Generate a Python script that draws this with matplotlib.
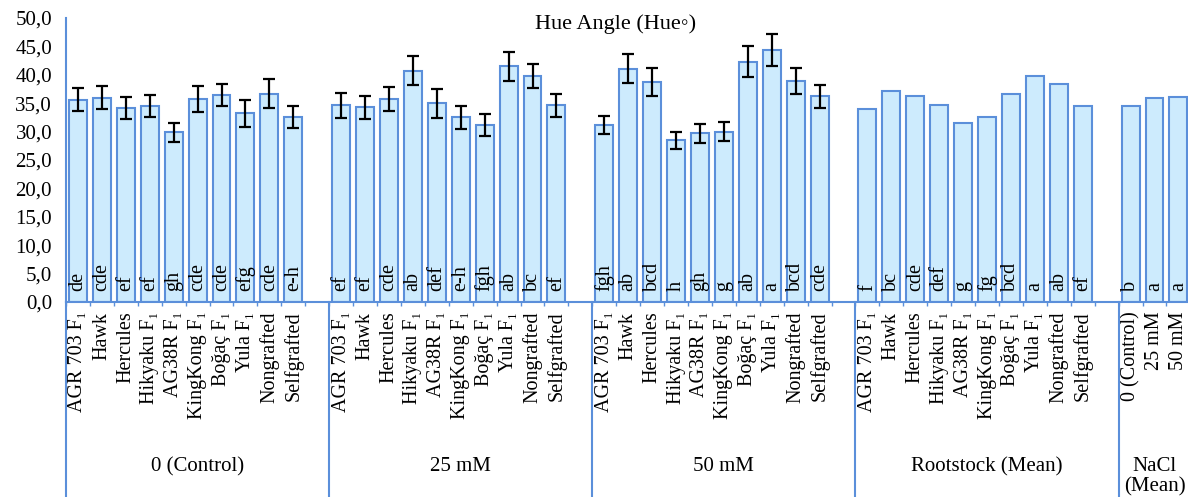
import numpy as np
import matplotlib
matplotlib.use("Agg")
import matplotlib.pyplot as plt
import matplotlib.ticker as mtick
from matplotlib.transforms import blended_transform_factory

plt.rcParams['font.family'] = ['Liberation Serif', 'DejaVu Serif', 'DejaVu Sans']

cultivars = ["AGR 703 F₁", "Hawk", "Hercules", "Hikyaku F₁", "AG38R F₁",
             "KingKong F₁", "Boğaç F₁", "Yula F₁", "Nongrafted", "Selfgrafted"]
nacl_levels = ["0 (Control)", "25 mM", "50 mM"]
group_names = ["0 (Control)", "25 mM", "50 mM", "Rootstock (Mean)", "NaCl\n(Mean)"]

hue_control = [35.6, 36.0, 34.2, 34.5, 29.9, 35.8, 36.5, 33.2, 36.7, 32.5]
err_control = [2.05, 2.0, 1.9, 1.95, 1.65, 2.3, 1.95, 2.4, 2.5, 1.95]
let_control = ["de", "cde", "ef", "ef", "gh", "cde", "cde", "efg", "cde", "e-h"]

hue_25 = [34.6, 34.3, 35.8, 40.7, 35.0, 32.5, 31.2, 41.5, 39.8, 34.6]
err_25 = [2.2, 2.05, 2.1, 2.55, 2.55, 2.0, 1.9, 2.6, 2.1, 1.95]
let_25 = ["ef", "ef", "cde", "ab", "def", "e-h", "fgh", "ab", "bc", "ef"]

hue_50 = [31.2, 41.1, 38.8, 28.5, 29.7, 30.0, 42.3, 44.4, 38.9, 36.2]
err_50 = [1.55, 2.6, 2.45, 1.5, 1.65, 1.7, 2.7, 2.8, 2.35, 2.0]
let_50 = ["fgh", "ab", "bcd", "h", "gh", "g", "ab", "a", "bcd", "cde"]

hue_root = [33.9, 37.1, 36.2, 34.6, 31.5, 32.6, 36.7, 39.8, 38.4, 34.5]
let_root = ["f", "bc", "cde", "def", "g", "fg", "bcd", "a", "ab", "ef"]

hue_nacl = [34.5, 36.0, 36.1]
let_nacl = ["b", "a", "a"]

groups = [
    (cultivars, hue_control, err_control, let_control),
    (cultivars, hue_25, err_25, let_25),
    (cultivars, hue_50, err_50, let_50),
    (cultivars, hue_root, None, let_root),
    (nacl_levels, hue_nacl, None, let_nacl),
]

face = '#CDEBFD'
edge = '#5B8FDA'

fig = plt.figure(figsize=(11.88, 4.97), dpi=100)
ax = fig.add_axes([66 / 1188, 1 - 302 / 497, 1 - 66 / 1188, (302 - 18) / 497])

xpos, xlab = [], []
bounds = [-0.5]
slot = 0
for labels, vals, errs, lets in groups:
    x = np.arange(slot, slot + len(vals))
    ax.bar(x, vals, width=0.75, color=face, edgecolor=edge, linewidth=1.5, zorder=2)
    if errs is not None:
        ax.errorbar(x, vals, yerr=errs, fmt='none', ecolor='black', elinewidth=1.6,
                     capsize=4, capthick=1.6, zorder=3)
    for xi, t in zip(x, lets):
        ax.text(xi, 1.9, t, rotation=90, ha='center', va='bottom', fontsize=14.5, zorder=4)
    xpos.extend(x)
    xlab.extend(labels)
    slot += len(vals) + 1
    bounds.append(slot - 0.5)
bounds[-1] = bounds[-1] - 1

ax.set_xlim(-0.5, bounds[-1] - 0.1)
ax.set_ylim(0, 50)

ax.set_xticks(xpos)
ax.set_xticklabels(xlab, rotation=90, ha='center', va='top', fontsize=14.5)
ax.set_xticks(np.arange(-0.5, bounds[-1], 1.0), minor=True)
ax.tick_params(axis='x', which='major', length=0, pad=7)
ax.tick_params(axis='x', which='minor', length=3, color=edge, width=1)

ax.yaxis.set_major_locator(mtick.MultipleLocator(5))
ax.yaxis.set_major_formatter(mtick.FuncFormatter(lambda v, p: ("%.1f" % v).replace('.', ',')))
ax.tick_params(axis='y', length=0, pad=10, labelsize=15)

for s in ['top', 'right']:
    ax.spines[s].set_visible(False)
ax.spines['left'].set_color(edge)
ax.spines['bottom'].set_color(edge)
ax.spines['left'].set_linewidth(1.5)
ax.spines['bottom'].set_linewidth(1.5)

tr = blended_transform_factory(ax.transData, ax.transAxes)
for b in bounds[:-1]:
    ax.plot([b, b], [0, -0.7], color=edge, linewidth=1.5, transform=tr, clip_on=False)

for i, name in enumerate(group_names):
    cx = (bounds[i] + bounds[i + 1]) / 2
    ax.text(cx, -0.545, name, transform=tr, ha='center', va='top', fontsize=15,
            linespacing=1.1)

fig.text(616 / 1188, 1 - 24 / 497, "Hue Angle (Hue◦)", ha='center', va='center', fontsize=16)

fig.savefig("out.png", dpi=100)
